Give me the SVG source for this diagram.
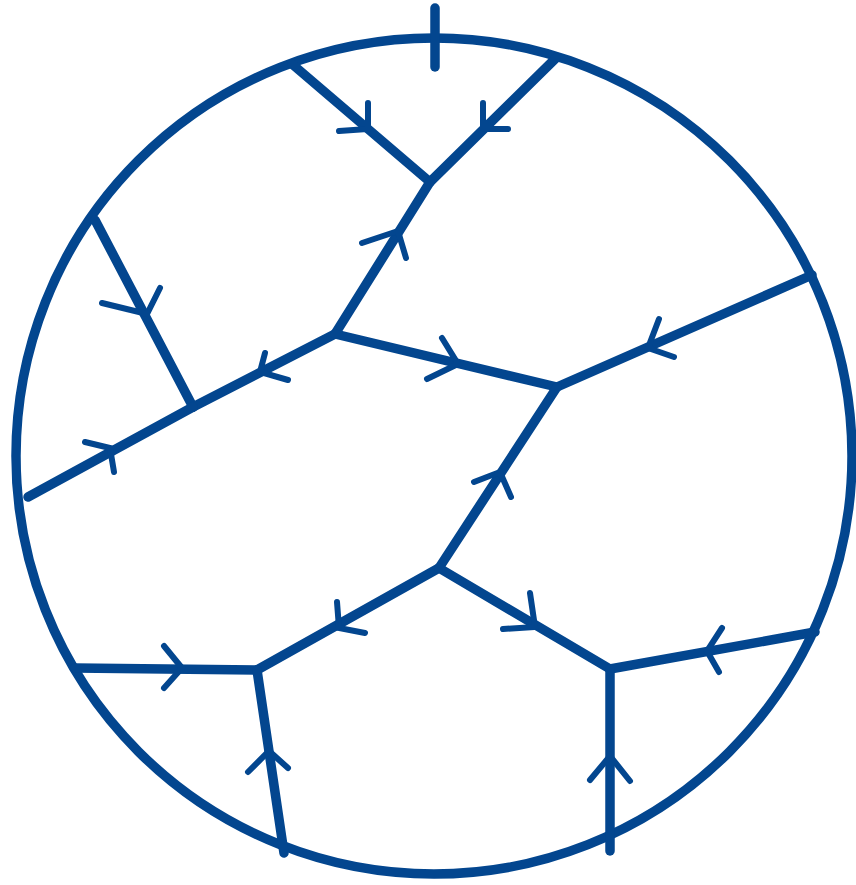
<svg xmlns="http://www.w3.org/2000/svg" width="856" height="885" viewBox="0 0 856 885">
<style>
.e{fill:none;stroke:#03468f;stroke-width:9.5;stroke-linecap:round;stroke-linejoin:round}
.a{fill:none;stroke:#03468f;stroke-width:6;stroke-linecap:round;stroke-linejoin:miter}
</style>
<rect width="856" height="885" fill="#fff"/>
<g id="boundary">
<circle class="e" cx="434" cy="456" r="418"/>
<line class="e" x1="435" y1="8" x2="435" y2="67"/>
</g>
<g id="connectors">
<!-- top left into A -->
<line class="e" x1="292" y1="64" x2="430" y2="182"/>
<path class="a" d="M368,103 L368,129 L339,131"/>
<!-- top right into A -->
<line class="e" x1="556" y1="58" x2="430" y2="182"/>
<path class="a" d="M483,103 L483,129 L508,129"/>
<!-- B to A -->
<line class="e" x1="335" y1="334" x2="430" y2="182"/>
<path class="a" d="M362,243 L398,231 L406,258"/>
<!-- circle to C -->
<line class="e" x1="95" y1="220" x2="193" y2="407"/>
<path class="a" d="M160,288 L147,314 L102,303"/>
<!-- B to C and beyond -->
<line class="e" x1="335" y1="334" x2="193" y2="407"/>
<path class="a" d="M265,353 L260,372 L288,380"/>
<line class="e" x1="28" y1="497" x2="193" y2="407"/>
<path class="a" d="M85,442 L110,448 L114,472"/>
<!-- B to D -->
<line class="e" x1="335" y1="334" x2="557" y2="387"/>
<path class="a" d="M442,338 L458,364 L427,379"/>
<!-- circle to D -->
<line class="e" x1="812" y1="275" x2="557" y2="387"/>
<path class="a" d="M659,319 L648,348 L674,357"/>
<!-- E to D -->
<line class="e" x1="439" y1="568" x2="557" y2="387"/>
<path class="a" d="M474,482 L500,472 L511,497"/>
<!-- E to F -->
<line class="e" x1="439" y1="568" x2="257" y2="670"/>
<path class="a" d="M337,602 L339,628 L365,633"/>
<!-- E to G -->
<line class="e" x1="439" y1="568" x2="610" y2="669"/>
<path class="a" d="M530,593 L535,627 L503,629"/>
<!-- circle to F -->
<line class="e" x1="75" y1="668" x2="257" y2="670"/>
<path class="a" d="M164,646 L182,668 L164,688"/>
<!-- circle to G -->
<line class="e" x1="815" y1="632" x2="610" y2="669"/>
<path class="a" d="M722,628 L707,651 L719,672"/>
<!-- bottom to F -->
<line class="e" x1="284" y1="853" x2="257" y2="670"/>
<path class="a" d="M248,772 L269,751 L288,768"/>
<!-- bottom to G -->
<line class="e" x1="610" y1="851" x2="610" y2="669"/>
<path class="a" d="M590,780 L610,756 L630,781"/>
</g>
</svg>
